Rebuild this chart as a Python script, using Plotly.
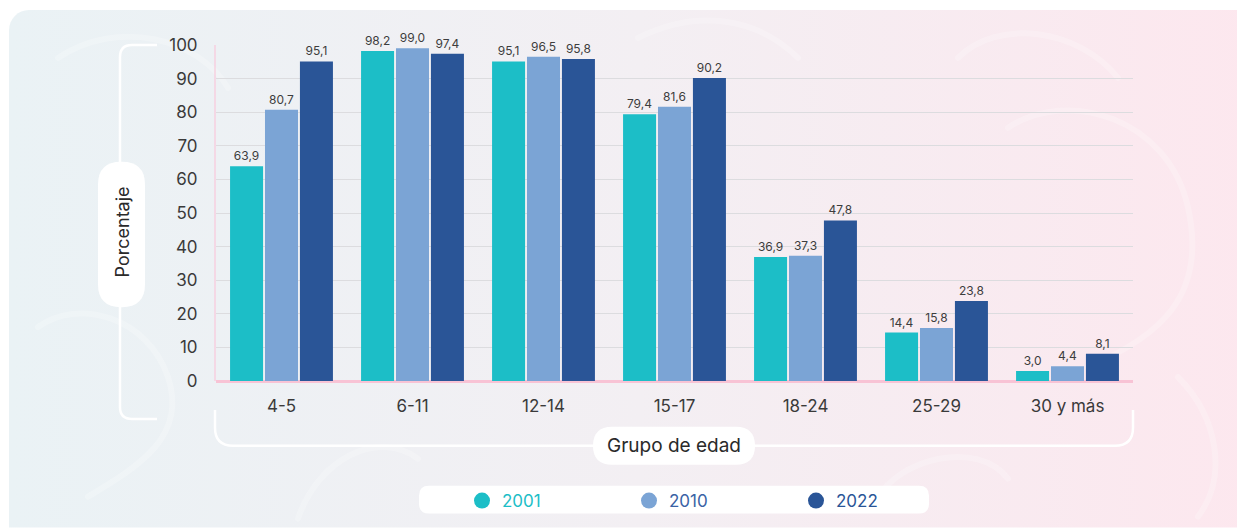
import plotly.graph_objects as go
import urllib.parse

categories = ["4-5", "6-11", "12-14", "15-17", "18-24", "25-29", "30 y más"]
years = ["2001", "2010", "2022"]
v2001 = [63.9, 98.2, 95.1, 79.4, 36.9, 14.4, 3.0]
v2010 = [80.7, 99.0, 96.5, 81.6, 37.3, 15.8, 4.4]
v2022 = [95.1, 97.4, 95.8, 90.2, 47.8, 23.8, 8.1]
y_ticks = [0, 10, 20, 30, 40, 50, 60, 70, 80, 90, 100]

bar_colors = ["#1CBEC7", "#7BA4D5", "#2A5597"]
legend_text_colors = ["#1CBEC7", "#3A62A5", "#2A5597"]
series = [v2001, v2010, v2022]

OFF = 8  # page body margin
W, H = 1237, 521
ML, MR, MT, MB = 208, 112, 37, 147
PW, PH = W - ML - MR, H - MT - MB

def fx(sx):
    return (sx - OFF - ML) / PW

def fy(sy):
    return (H - MB - (sy - OFF)) / PH

def pt(sx, sy):
    return f"{fx(sx):.5f},{fy(sy):.5f}"

FONT = "Inter, 'Open Sans', sans-serif"

fig = go.Figure()
for name, vals, col in zip(years, series, bar_colors):
    fig.add_trace(go.Bar(
        x=categories, y=vals, name=name, marker_color=col,
        marker_line_width=0, showlegend=False, legendgroup=name,
        texttemplate="%{y:.1f}", textposition="outside",
        textfont=dict(size=12, color="#3d3d3d", family=FONT),
        cliponaxis=False,
    ))
for name, col, tcol in zip(years, bar_colors, legend_text_colors):
    fig.add_trace(go.Scatter(
        x=[None], y=[None], mode="markers", legendgroup=name,
        name=f"<span style='color:{tcol}'>{name}</span>",
        marker=dict(size=16, color=col, symbol="circle"),
    ))

svg = (
    f"<svg xmlns='http://www.w3.org/2000/svg' width='{W}' height='{H}' viewBox='0 0 {W} {H}' preserveAspectRatio='none'>"
    "<defs><linearGradient id='g' x1='0' y1='0' x2='1' y2='0'>"
    "<stop offset='0' stop-color='#EAF2F5'/><stop offset='0.5' stop-color='#F3EFF3'/>"
    "<stop offset='1' stop-color='#FDE7EE'/></linearGradient></defs>"
    f"<rect x='0' y='0' width='{W}' height='{H}' fill='#ffffff'/>"
    "<rect x='1' y='2' width='1260' height='540' rx='20' ry='20' fill='url(#g)'/>"
    "<g fill='none' stroke='#ffffff' stroke-opacity='0.22' stroke-width='6' stroke-linecap='round'>"
    "<path d='M50 50 C 110 10, 190 30, 220 80'/>"
    "<path d='M30 320 C 70 290, 140 310, 160 370 S 130 460, 80 490'/>"
    "<path d='M290 512 C 310 452, 370 422, 410 452'/>"
    "<path d='M950 50 C 990 10, 1070 20, 1110 70'/>"
    "<path d='M1170 370 C 1210 410, 1220 470, 1190 510'/>"
    "<path d='M870 492 C 890 452, 970 432, 1000 472'/>"
    "<path d='M630 30 C 690 0, 750 10, 790 50'/>"
    "<path d='M1000 120 C 1060 80, 1160 110, 1180 200 S 1150 330, 1080 360'/>"
    "</g></svg>"
)
src = "data:image/svg+xml;charset=utf-8," + urllib.parse.quote(svg)
fig.add_layout_image(dict(
    source=src, xref="paper", yref="paper", x=-ML / PW, y=(H - MB) / PH,
    sizex=W / PW, sizey=H / PH, xanchor="left", yanchor="top",
    sizing="stretch", layer="below", opacity=1,
))

shapes = []
r = 12
shapes.append(dict(
    type="path", xref="paper", yref="paper",
    path=(f"M{pt(157,45)} L{pt(120+r,45)} Q{pt(120,45)} {pt(120,45+r)} "
          f"L{pt(120,420-r)} Q{pt(120,420)} {pt(120+r,420)} L{pt(157,420)}"),
    line=dict(color="white", width=2.5), layer="below",
))
r2 = 18
shapes.append(dict(
    type="path", xref="paper", yref="paper",
    path=(f"M{pt(215,411)} L{pt(215,447-r2)} Q{pt(215,447)} {pt(215+r2,447)} "
          f"L{pt(1133-r2,447)} Q{pt(1133,447)} {pt(1133,447-r2)} L{pt(1133,411)}"),
    line=dict(color="white", width=2.5), layer="below",
))

def pill(x0, y0, x1, y1, rad):
    return (f"M{pt(x0+rad,y0)} L{pt(x1-rad,y0)} Q{pt(x1,y0)} {pt(x1,y0+rad)} "
            f"L{pt(x1,y1-rad)} Q{pt(x1,y1)} {pt(x1-rad,y1)} L{pt(x0+rad,y1)} "
            f"Q{pt(x0,y1)} {pt(x0,y1-rad)} L{pt(x0,y0+rad)} Q{pt(x0,y0)} {pt(x0+rad,y0)} Z")

shapes.append(dict(type="path", xref="paper", yref="paper", path=pill(98, 162, 145, 308, 23),
                   fillcolor="white", line=dict(width=0), layer="below"))
shapes.append(dict(type="path", xref="paper", yref="paper", path=pill(593, 428, 755, 466, 19),
                   fillcolor="white", line=dict(width=0), layer="below"))
shapes.append(dict(type="path", xref="paper", yref="paper", path=pill(419, 487, 929, 515, 10),
                   fillcolor="white", line=dict(width=0), layer="below"))

fig.update_layout(
    width=W, height=H,
    margin=dict(l=ML, r=MR, t=MT, b=MB, pad=0),
    paper_bgcolor="white", plot_bgcolor="rgba(0,0,0,0)",
    separators=",.",
    font=dict(family=FONT, color="#3a3a3a"),
    barmode="group", bargap=0.2, bargroupgap=0.055,
    shapes=shapes,
    showlegend=True,
    legend=dict(
        orientation="h", x=fx(462), xanchor="left", y=fy(501), yanchor="middle",
        bgcolor="rgba(0,0,0,0)", font=dict(size=17, family=FONT),
        entrywidth=122, entrywidthmode="pixels", itemsizing="trace",
        itemclick=False, itemdoubleclick=False,
    ),
    annotations=[
        dict(text="Porcentaje", xref="paper", yref="paper", x=fx(122), y=fy(233),
             xanchor="center", yanchor="middle",
             showarrow=False, textangle=-90, font=dict(size=18, color="#2a2a2a", family=FONT)),
        dict(text="Grupo de edad", xref="paper", yref="paper", x=fx(674), y=fy(447),
             xanchor="center", yanchor="middle",
             showarrow=False, font=dict(size=19, color="#2a2a2a", family=FONT)),
    ],
)
fig.update_xaxes(
    showgrid=False, showline=False, ticks="", tickfont=dict(size=17, color="#3a3a3a"),
    ticklabelstandoff=13,
)
fig.update_yaxes(
    range=[0, 100], tickvals=y_ticks, showgrid=True, gridcolor="#dcdcdf", gridwidth=1,
    zeroline=True, zerolinecolor="#f8c3d5", zerolinewidth=3,
    showline=True, linecolor="rgba(248,200,218,0.6)", linewidth=2,
    ticks="", tickfont=dict(size=17, color="#3a3a3a"), ticklabelstandoff=13,
)

fig.write_html("out.html")
